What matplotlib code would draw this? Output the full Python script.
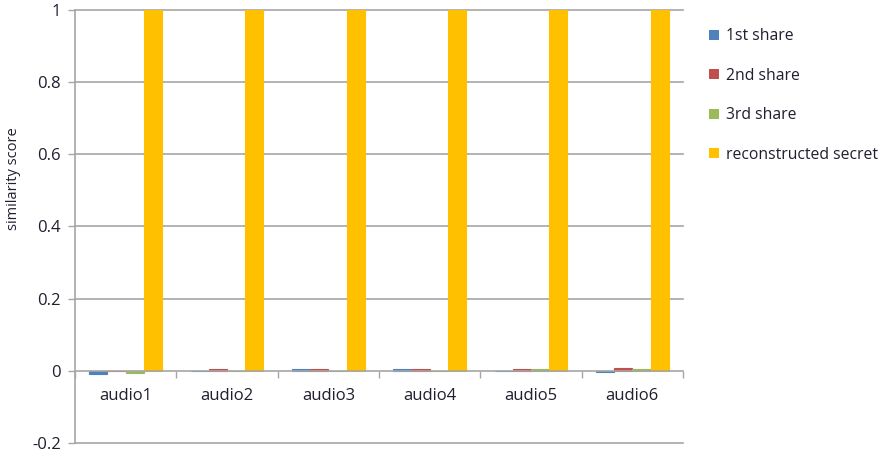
import matplotlib
matplotlib.use("Agg")
import matplotlib.pyplot as plt
from matplotlib.patches import Patch
import numpy as np

categories = ["audio1", "audio2", "audio3", "audio4", "audio5", "audio6"]
series_names = ["1st share", "2nd share", "3rd share", "reconstructed secret"]
share1 = [-0.009, 0.0, 0.004, 0.004, 0.0, -0.004]
share2 = [0.0, 0.004, 0.004, 0.004, 0.004, 0.007]
share3 = [-0.006, 0.0, 0.0, 0.0, 0.004, 0.004]
secret = [1.0, 1.0, 1.0, 1.0, 1.0, 1.0]
y_ticks = [-0.2, 0, 0.2, 0.4, 0.6, 0.8, 1]
y_tick_labels = ["-0.2", "0", "0.2", "0.4", "0.6", "0.8", "1"]

colors = ["#4F81BD", "#C0504D", "#9BBB59", "#FFC000"]
grid_color = "#A6A6A6"
text_color = "#1F1F2F"
font = "Open Sans"

W, H = 883, 453
fig = plt.figure(figsize=(W / 100, H / 100), dpi=100)
ax = fig.add_axes([75 / W, (H - 443) / H, (683 - 75) / W, (443 - 10) / H])

x = np.arange(len(categories))
width = 0.18
offsets = [-0.27, -0.09, 0.09, 0.27]
for vals, off, col, name in zip([share1, share2, share3, secret], offsets, colors, series_names):
    ax.bar(x + off, vals, width, color=col, edgecolor=col, linewidth=0.8, label=name, zorder=3)

ax.set_xlim(-0.5, len(categories) - 0.5)
ax.set_ylim(-0.2, 1.0)

# horizontal gridlines
for yv in y_ticks:
    if yv != 0:
        ax.axhline(yv, color=grid_color, lw=1.2, zorder=1, clip_on=False)

for s in ["top", "right"]:
    ax.spines[s].set_visible(False)
ax.spines["left"].set_color(grid_color)
ax.spines["left"].set_linewidth(1.2)
ax.spines["bottom"].set_position(("data", 0))
ax.spines["bottom"].set_color(grid_color)
ax.spines["bottom"].set_linewidth(1.2)
ax.spines["bottom"].set_zorder(4)

ax.set_yticks(y_ticks)
ax.set_yticklabels(y_tick_labels, fontsize=12, color=text_color, family=font)
ax.tick_params(axis="y", length=5, width=1, color=grid_color, pad=5)

ax.set_xticks(np.arange(-0.5, len(categories)), labels=[""] * (len(categories) + 1))
ax.set_xticks(x, minor=True)
ax.set_xticklabels(categories, minor=True, fontsize=12, color=text_color, family=font)
ax.tick_params(axis="x", which="major", length=5, width=1, color=grid_color, direction="out")
ax.tick_params(axis="x", which="minor", length=0, pad=12)

fig.text(14 / W, 1 - 179 / H, "similarity score", rotation=90, ha="center", va="center",
         fontsize=10.5, color=text_color, family=font)

handles = [Patch(facecolor=c, edgecolor="none") for c in colors]
leg = fig.legend(handles, series_names, loc="upper left", bbox_to_anchor=(703 / W, 1 - 22 / H),
                 frameon=False, prop={"family": font, "size": 11.3}, labelspacing=1.5,
                 handlelength=0.6, handleheight=0.6, handletextpad=0.45, borderaxespad=0)
for t in leg.get_texts():
    t.set_color(text_color)

fig.savefig("out.png", dpi=100)
